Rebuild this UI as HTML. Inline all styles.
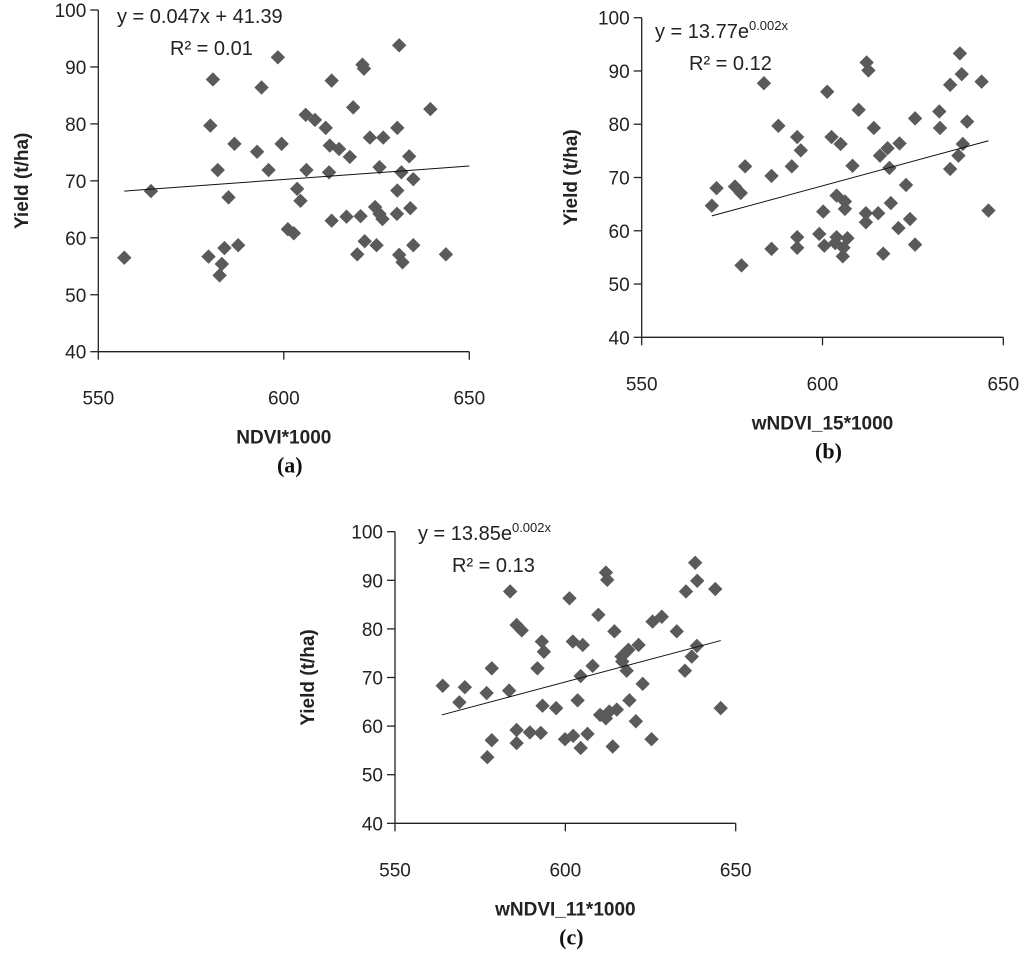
<!DOCTYPE html>
<html><head><meta charset="utf-8"><style>
html,body{margin:0;padding:0;background:#fff;}
svg{display:block;font-family:"Liberation Sans",sans-serif;}
</style></head><body>
<svg id="fig" width="1024" height="956" viewBox="0 0 1024 956" xmlns="http://www.w3.org/2000/svg"></svg>
<script>
// Chart (a) data: NDVI*1000 vs Yield
const aX = [557,564.2,580.9,580.2,582.2,585.1,579.7,583.3,582.7,584.0,587.7,586.7,594.0,592.8,595.9,599.4,598.4,603.6,604.5,601.1,602.7,606.1,605.9,608.4,611.3,612.9,612.4,614.9,617.8,612.2,612.9,616.9,618.7,620.7,621.2,621.6,623.2,626.8,619.8,621.8,625.0,624.6,625.8,626.6,625.8,630.6,630.5,630.6,631.1,631.7,633.8,634.9,634.1,631.1,632.0,634.9,639.5,643.7];
const aY = [56.5,68.2,87.8,79.7,71.9,67.1,56.7,55.4,53.4,58.2,58.7,76.5,86.4,75.1,71.9,76.5,91.7,68.6,66.5,61.5,60.8,71.9,81.6,80.7,79.3,87.6,76.2,75.6,74.2,71.5,63.0,63.7,82.9,63.8,90.4,89.7,77.6,77.6,57.1,59.4,58.7,65.4,64.2,63.3,72.4,68.3,64.2,79.3,93.8,71.5,74.3,70.3,65.2,57.0,55.7,58.7,82.6,57.1];
const aTrendX = [557,650];
const aTrendY = [68.2,72.6];
// Chart (b) data: wNDVI_15*1000 vs Yield
const bX = [569.4,570.7,575.8,577.4,578.6,577.6,583.8,585.9,585.9,587.8,591.5,593.0,594.0,593.0,593.0,601.3,600.2,599.1,600.5,602.5,605.0,603.9,606.2,606.2,603.9,603.5,605.8,605.6,606.9,608.3,610.0,612.2,612.7,614.2,612.0,612.0,615.4,615.9,618.0,618.5,618.9,621.3,623.1,621.0,624.2,625.6,625.6,632.3,632.5,635.3,635.3,638.0,638.5,637.6,638.8,640.0,644.0,645.9,616.8];
const bY = [64.7,68.0,68.3,67.1,72.1,53.5,87.7,70.3,56.6,79.7,72.1,77.6,75.1,58.8,56.8,86.1,63.6,59.4,57.2,77.6,76.3,66.6,65.5,64.1,58.8,57.7,56.8,55.2,58.6,72.2,82.7,91.6,90.1,79.3,63.3,61.6,63.3,74.1,75.5,71.8,65.2,76.4,68.6,60.5,62.2,57.4,81.1,82.4,79.3,71.6,87.4,93.3,89.4,74.1,76.3,80.5,88.0,63.8,55.7];
const bTrendX = [569.4,645.9];
const bTrendY = [62.8,76.9];
// Chart (c) data: wNDVI_11*1000 vs Yield
const cX = [564.0,570.5,568.9,576.9,578.4,578.4,577.1,583.5,583.8,585.7,587.2,585.7,585.7,589.6,592.8,591.8,593.1,593.7,593.3,597.3,601.2,599.9,602.2,605.1,604.5,603.6,602.3,604.5,606.5,608.0,609.7,611.9,612.3,614.4,610.2,611.9,612.9,615.1,613.9,616.5,618.5,621.5,618.0,618.8,620.7,622.7,625.3,625.6,628.3,632.7,635.1,635.4,638.1,638.7,637.1,638.6,644.0,645.6,616.7];
const cY = [68.3,68.0,64.9,66.8,71.9,57.1,53.6,67.3,87.7,80.8,79.7,56.5,59.2,58.7,58.6,71.9,77.4,75.3,64.2,63.7,86.3,57.3,77.4,76.7,70.3,65.3,58.0,55.5,58.4,72.4,82.9,91.6,90.1,79.5,62.3,61.6,63.0,63.4,55.8,74.3,75.7,76.7,71.4,65.3,61.0,68.7,57.3,81.5,82.5,79.5,71.4,87.7,93.6,89.9,74.3,76.5,88.2,63.7,73.3];
const cTrendX = [563.7,645.6];
const cTrendY = [62.3,77.6];
const xTicks = [550,600,650];
const yTicks = [40,50,60,70,80,90,100];

const NS = "http://www.w3.org/2000/svg";
const svg = document.getElementById('fig');
function mk(tag, attrs, parent){
  const e = document.createElementNS(NS, tag);
  for (const k in attrs) e.setAttribute(k, attrs[k]);
  (parent||svg).appendChild(e);
  return e;
}
function chart(id, L, xs, ys, tx, ty, xTitle, panel, eq, eqExp, r2){
  const g = mk('g', {});
  
  
  const sx = v => L.x0 + (v - 550) / 100 * (L.x1 - L.x0);
  const sy = v => L.y40 - (v - 40) / 60 * (L.y40 - L.y100);
  // axes
  const ya = mk('line', {x1:L.x0, y1:sy(100), x2:L.x0, y2:sy(40), stroke:'#222', 'stroke-width':1.3}, g);
  
  
  const xa = mk('line', {x1:L.x0, y1:sy(40), x2:sx(650), y2:sy(40), stroke:'#222', 'stroke-width':1.3}, g);
  
  
  yTicks.forEach(t => {
    const y = sy(t);
    mk('line', {x1:L.x0-8, y1:y, x2:L.x0, y2:y, stroke:'#222', 'stroke-width':1.3}, g);
    const tl = mk('text', {x:L.x0-12, y:y+7, 'text-anchor':'end', 'font-size':19, fill:'#222'}, g);
    tl.textContent = t;
    
    
  });
  xTicks.forEach(t => {
    const x = sx(t);
    mk('line', {x1:x, y1:sy(40), x2:x, y2:sy(40)+8, stroke:'#222', 'stroke-width':1.3}, g);
    const tl = mk('text', {x:x, y:sy(40)+53, 'text-anchor':'middle', 'font-size':19, fill:'#222'}, g);
    tl.textContent = t;
    
    
  });
  // points
  xs.forEach((v, i) => {
    const cx = sx(v), cy = sy(ys[i]), r = 7.2;
    const p = mk('polygon', {points:`${cx},${cy-r} ${cx+r},${cy} ${cx},${cy+r} ${cx-r},${cy}`, fill:'#5a5a5a'}, g);
    
    
  });
  // trend
  const tr = mk('line', {x1:sx(tx[0]), y1:sy(ty[0]), x2:sx(tx[1]), y2:sy(ty[1]), stroke:'#111', 'stroke-width':1}, g);
  
  
  // equation
  const e1 = mk('text', {x:L.ex, y:L.ey, 'font-size':20, fill:'#222'}, g);
  
  
  e1.textContent = eq;
  if (eqExp){
    const ts = mk('tspan', {'font-size':13, dy:-8}, e1);
    ts.textContent = eqExp;
  }
  const e2 = mk('text', {x:L.rx, y:L.ey+32, 'font-size':20, fill:'#222'}, g);
  
  
  e2.textContent = r2;
  // titles
  const yt = mk('text', {x:0, y:0, transform:`translate(${L.ytx},${(sy(40)+sy(100))/2}) rotate(-90)`, 'text-anchor':'middle', 'font-size':19, 'font-weight':'bold', fill:'#222'}, g);
  yt.textContent = 'Yield (t/ha)';
  
  
  const xt = mk('text', {x:sx(600), y:sy(40)+92, 'text-anchor':'middle', 'font-size':19, 'font-weight':'bold', fill:'#222'}, g);
  xt.textContent = xTitle;
  
  
  const pl = mk('text', {x:sx(600)+6, y:sy(40)+121, 'text-anchor':'middle', 'font-size':22, 'font-weight':'bold', fill:'#111', 'font-family':'Liberation Serif, serif'}, g);
  pl.textContent = panel;
  
  
}
chart('a', {x0:98.3, x1:469.3, y40:351.7, y100:10, ex:117, ey:23, rx:170, ytx:28}, aX, aY, aTrendX, aTrendY, 'NDVI*1000', '(a)', 'y = 0.047x + 41.39', '', 'R² = 0.01');
chart('b', {x0:641.7, x1:1003.3, y40:337.3, y100:17.7, ex:655, ey:38, rx:689, ytx:577}, bX, bY, bTrendX, bTrendY, 'wNDVI_15*1000', '(b)', 'y = 13.77e', '0.002x', 'R² = 0.12');
chart('c', {x0:395, x1:735.7, y40:823.3, y100:531.7, ex:418, ey:540, rx:452, ytx:314}, cX, cY, cTrendX, cTrendY, 'wNDVI_11*1000', '(c)', 'y = 13.85e', '0.002x', 'R² = 0.13');
</script>
</body></html>
